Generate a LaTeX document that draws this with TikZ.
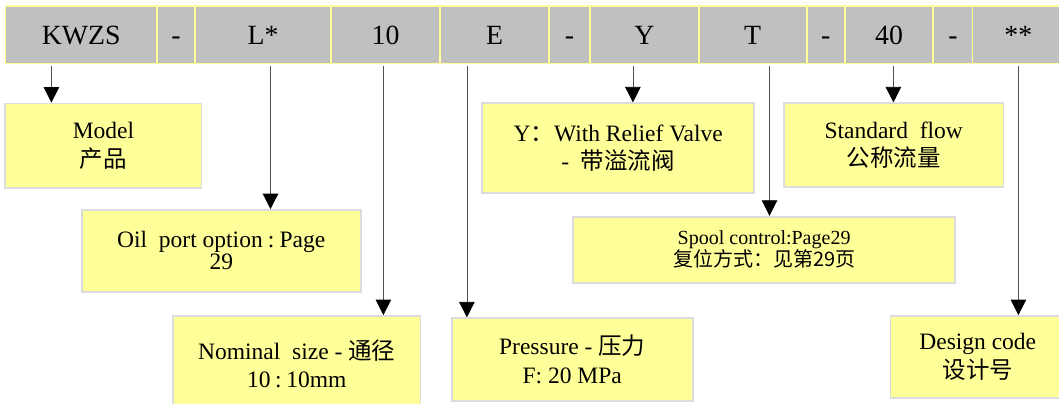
\documentclass[tikz,border=0pt]{standalone}
\usepackage{fontspec}
\setmainfont{Liberation Serif}
\newfontfamily\cjk{Noto Sans CJK SC}
\usetikzlibrary{arrows.meta}
\definecolor{cellgray}{HTML}{C0C0C0}
\definecolor{celledge}{HTML}{FFFF99}
\definecolor{boxfill}{HTML}{FFFF99}
\definecolor{boxedge}{HTML}{DCDCDC}
\definecolor{linegray}{HTML}{505050}
\tikzset{
  cell/.style={draw=celledge, fill=cellgray, line width=1.6bp, inner sep=0pt,
    minimum height=57.5bp, text height=19bp, text depth=0bp,
    font=\fontsize{27.8bp}{30bp}\selectfont},
  infobox/.style={draw=boxedge, fill=boxfill, line width=1.8bp, inner sep=0pt,
    align=center, font=\fontsize{23.5bp}{28.5bp}\selectfont},
  tightbox/.style={infobox, font=\fontsize{23.5bp}{22bp}\selectfont},
  spoolbox/.style={infobox, font=\fontsize{20bp}{22bp}\selectfont},
  arr/.style={draw=linegray, line width=0.8bp,
    -{Triangle[width=15.5bp,length=15.5bp,color=black]}, shorten <=1.5bp},
}
\begin{document}
\lineskiplimit=-30bp
\begin{tikzpicture}[x=1bp, y=-1bp]
\useasboundingbox (0,0) rectangle (1059,403);
\fill[white] (0,0) rectangle (1059,403);
\clip (0,0) rectangle (1059,403);

% code bar
\node[cell, minimum width=151.8bp] (c1)  at (81.3,34.75)   {KWZS};
\node[cell, minimum width=37.8bp]  (c2)  at (176.1,34.75)  {-};
\node[cell, minimum width=136bp]   (c3)  at (263,34.75)    {L*};
\node[cell, minimum width=109bp]   (c4)  at (385.5,34.75)  {10};
\node[cell, minimum width=109.2bp] (c5)  at (494.6,34.75)  {E};
\node[cell, minimum width=40.8bp]  (c6)  at (569.6,34.75)  {-};
\node[cell, minimum width=108.7bp] (c7)  at (644.35,34.75) {Y};
\node[cell, minimum width=108bp]   (c8)  at (752.7,34.75)  {T};
\node[cell, minimum width=38.1bp]  (c9)  at (825.75,34.75) {-};
\node[cell, minimum width=88.4bp]  (c10) at (889,34.75)    {40};
\node[cell, minimum width=39.4bp]  (c11) at (952.9,34.75)  {-};
\node[cell, minimum width=91.4bp]  (c12) at (1018.3,34.75) {**};

% description boxes
\node[infobox, minimum width=196.1bp, minimum height=84.5bp] (model) at (103.45,145.75)
  {Model\\{\cjk 产品}};
\node[infobox, minimum width=271.9bp, minimum height=90bp] (ybox) at (618.15,148.3)
  {Y{\cjk ：}With Relief Valve\\-\ \ {\cjk 带溢流阀}};
\node[infobox, minimum width=219.6bp, minimum height=83.4bp] (flow) at (893.7,145)
  {Standard\ \ flow\\{\cjk 公称流量}};
\node[tightbox, minimum width=278.9bp, minimum height=81.7bp] (oil) at (221.25,250.85)
  {Oil\ \ port option\kern0.22em:\kern0.22em Page\\29};
\node[spoolbox, minimum width=382.2bp, minimum height=66bp] (spool) at (764.1,249.7)
  {Spool control:Page29\\{\cjk 复位方式：见第29页}};
\node[infobox, minimum width=247.5bp, minimum height=96bp] (nominal) at (296.75,364)
  {Nominal\ \ size - {\cjk 通径}\\10\kern0.2em:\kern0.2em 10mm};
\node[infobox, minimum width=240.9bp, minimum height=82.4bp] (pressure) at (572.25,359.5)
  {Pressure - {\cjk 压力}\\F: 20 MPa};
\node[infobox, minimum width=174.5bp, minimum height=82bp] (design) at (977.75,357)
  {Design code\\{\cjk 设计号}};

% connector x positions
\coordinate (k1) at (51.4,0);
\coordinate (k2) at (270.5,0);
\coordinate (k3) at (383.4,0);
\coordinate (k4) at (466.9,0);
\coordinate (k5) at (632.9,0);
\coordinate (k6) at (769.5,0);
\coordinate (k7) at (893.4,0);
\coordinate (k8) at (1018.4,0);

\draw[arr] (k1 |- c1.south)  -- (k1 |- model.north);
\draw[arr] (k2 |- c3.south)  -- (k2 |- oil.north);
\draw[arr] (k3 |- c4.south)  -- (k3 |- nominal.north);
\draw[arr] (k4 |- c5.south)  -- (k4 |- pressure.north);
\draw[arr] (k5 |- c7.south)  -- (k5 |- ybox.north);
\draw[arr] (k6 |- c8.south)  -- (k6 |- spool.north);
\draw[arr] (k7 |- c10.south) -- (k7 |- flow.north);
\draw[arr] (k8 |- c12.south) -- (k8 |- design.north);
\end{tikzpicture}
\end{document}
